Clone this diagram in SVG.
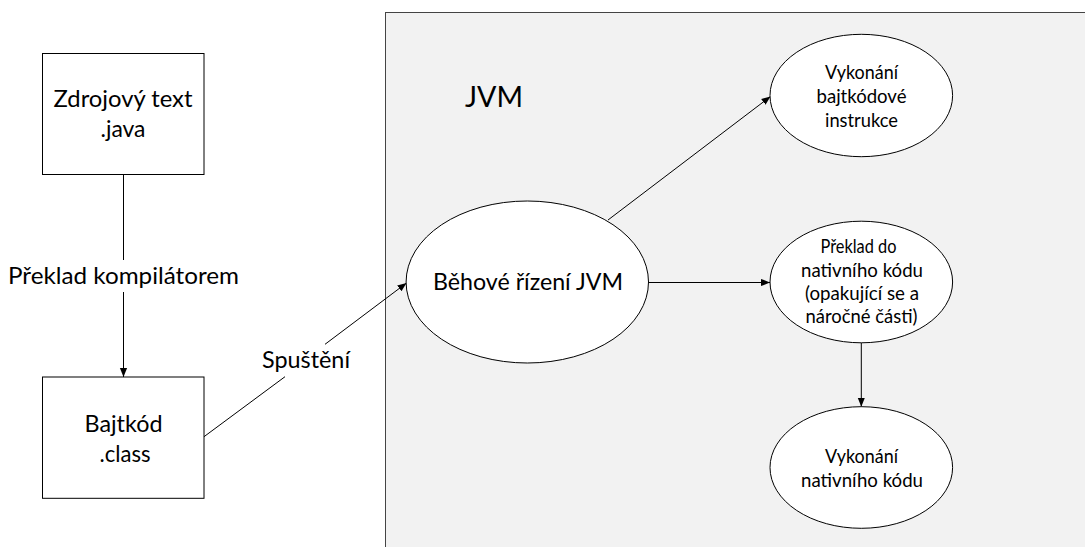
<svg xmlns="http://www.w3.org/2000/svg" width="1085" height="547" viewBox="0 0 1085 547">
<style>
text{font-family:Lato,"Liberation Sans",sans-serif;fill:#000;text-anchor:middle}
.box{fill:#fff;stroke:#000;stroke-width:1}
.ell{fill:#fff;stroke:#000;stroke-width:1}
.ln{stroke:#000;stroke-width:1;fill:none}
.big{font-size:23px}
.sm{font-size:20px}
</style>
<defs>
<marker id="ah" viewBox="0 0 10 10" refX="10" refY="5" markerWidth="9" markerHeight="9" markerUnits="userSpaceOnUse" orient="auto">
<path d="M0,1 L10,5 L0,9 Z" fill="#000"/>
</marker>
</defs>
<g id="jvm">
<rect x="385.5" y="12.5" width="720" height="560" fill="#f2f2f2" stroke="#444" stroke-width="1"/>
<text x="494" y="107" font-size="29" textLength="58" lengthAdjust="spacingAndGlyphs">JVM</text>
</g>
<g id="connectors">
<line class="ln" x1="123.5" y1="174" x2="123.5" y2="260"/>
<line class="ln" x1="123.5" y1="292" x2="123.5" y2="377" marker-end="url(#ah)"/>
<line class="ln" x1="204" y1="436.7" x2="285" y2="376.7"/>
<line class="ln" x1="325" y1="344.3" x2="406.5" y2="283" marker-end="url(#ah)"/>
<line class="ln" x1="608" y1="220" x2="770.5" y2="96.5" marker-end="url(#ah)"/>
<line class="ln" x1="648.5" y1="282.5" x2="770" y2="282.5" marker-end="url(#ah)"/>
<line class="ln" x1="861.3" y1="342.7" x2="861.3" y2="406.7" marker-end="url(#ah)"/>
<text class="big" x="123.5" y="284" textLength="231" lengthAdjust="spacingAndGlyphs">Překlad kompilátorem</text>
<text class="big" x="306" y="368" textLength="88" lengthAdjust="spacingAndGlyphs">Spuštění</text>
</g>
<g id="src">
<rect class="box" x="42.5" y="53.5" width="161.5" height="121"/>
<text class="big" x="123" y="107" textLength="139" lengthAdjust="spacingAndGlyphs">Zdrojový text</text>
<text class="big" x="123" y="137" textLength="45" lengthAdjust="spacingAndGlyphs">.java</text>
</g>
<g id="bytecode">
<rect class="box" x="42.5" y="377" width="161.5" height="121.3"/>
<text class="big" x="123.5" y="431.7" textLength="78" lengthAdjust="spacingAndGlyphs">Bajtkód</text>
<text class="big" x="125" y="461.7" textLength="51" lengthAdjust="spacingAndGlyphs">.class</text>
</g>
<g id="runtime">
<ellipse class="ell" cx="527.3" cy="282" rx="121.2" ry="81"/>
<text x="528" y="290" font-size="24" textLength="190" lengthAdjust="spacingAndGlyphs">Běhové řízení JVM</text>
</g>
<g id="exec-bc">
<ellipse class="ell" cx="861.3" cy="95.5" rx="91.3" ry="61.2"/>
<text class="sm" x="861.5" y="79.3" textLength="73" lengthAdjust="spacingAndGlyphs">Vykonání</text>
<text class="sm" x="861.5" y="102.7" textLength="90" lengthAdjust="spacingAndGlyphs">bajtkódové</text>
<text class="sm" x="861.5" y="126.5" textLength="73" lengthAdjust="spacingAndGlyphs">instrukce</text>
</g>
<g id="jit">
<ellipse class="ell" cx="861.3" cy="282" rx="91.3" ry="60.8"/>
<text class="sm" x="858.5" y="253.3" textLength="76" lengthAdjust="spacingAndGlyphs">Překlad do</text>
<text class="sm" x="862" y="276.7" textLength="122" lengthAdjust="spacingAndGlyphs">nativního kódu</text>
<text class="sm" x="862" y="300" textLength="114" lengthAdjust="spacingAndGlyphs">(opakující se a</text>
<text class="sm" x="861.5" y="323.3" textLength="112" lengthAdjust="spacingAndGlyphs">náročné části)</text>
</g>
<g id="exec-native">
<ellipse class="ell" cx="861.3" cy="467.5" rx="91.3" ry="60.8"/>
<text class="sm" x="861.5" y="463.3" textLength="73" lengthAdjust="spacingAndGlyphs">Vykonání</text>
<text class="sm" x="862" y="486.7" textLength="122" lengthAdjust="spacingAndGlyphs">nativního kódu</text>
</g>
</svg>
